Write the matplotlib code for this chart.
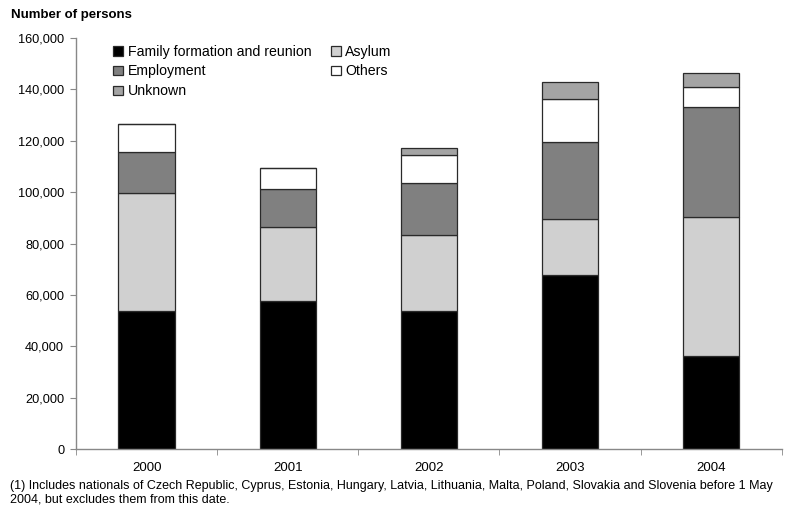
import matplotlib
matplotlib.use("Agg")
import matplotlib.pyplot as plt
import numpy as np
from matplotlib.ticker import FuncFormatter, FixedLocator

plt.rcParams['font.family'] = ['Liberation Sans', 'DejaVu Sans']

years = ["2000", "2001", "2002", "2003", "2004"]
family = [53700, 57600, 53700, 67700, 36200]
asylum = [45900, 28800, 29600, 21800, 54100]
employment = [16000, 14800, 20200, 30000, 42800]
others = [10900, 8100, 10900, 16700, 7800]
unknown = [0, 0, 2700, 6600, 5400]

series = [
    ("Family formation and reunion", family, "#000000"),
    ("Asylum", asylum, "#d0d0d0"),
    ("Employment", employment, "#808080"),
    ("Others", others, "#ffffff"),
    ("Unknown", unknown, "#a4a4a4"),
]

fig = plt.figure(figsize=(8.02, 5.08), dpi=100)
ax = fig.add_axes([0.0948, 0.116, 0.880, 0.809])

x = np.arange(len(years))
bottom = np.zeros(len(years))
handles = {}
for name, vals, col in series:
    vals = np.array(vals, dtype=float)
    h = ax.bar(x, vals, width=0.40, bottom=bottom, color=col,
               edgecolor="#2a2a2a", linewidth=0.9, label=name)
    handles[name] = h
    bottom += vals

ax.set_xlim(-0.5, len(years) - 0.5)
ax.set_ylim(0, 160000)
ax.set_yticks(np.arange(0, 160001, 20000))
ax.yaxis.set_major_formatter(FuncFormatter(lambda v, p: f"{int(v):,}"))
ax.set_xticks(x)
ax.set_xticklabels(years)
ax.xaxis.set_minor_locator(FixedLocator(np.arange(-0.5, len(years), 1.0)))
ax.tick_params(axis="x", which="major", length=0, pad=9, labelsize=9.5)
ax.tick_params(axis="x", which="minor", length=4, color="#888888", direction="out")
ax.tick_params(axis="y", length=4, color="#888888", labelsize=9.2, pad=4.5)

for s in ("top", "right"):
    ax.spines[s].set_visible(False)
for s in ("left", "bottom"):
    ax.spines[s].set_color("#888888")
    ax.spines[s].set_linewidth(1.0)

order = ["Family formation and reunion", "Employment", "Unknown", "Asylum", "Others"]
leg = ax.legend([handles[n] for n in order], order, ncol=2, loc="upper left",
                bbox_to_anchor=(0.041, 1.005), frameon=False, fontsize=10.2,
                handlelength=0.7, handleheight=0.7, handletextpad=0.3,
                columnspacing=1.4, labelspacing=0.42, borderaxespad=0.2)

fig.text(0.014, 0.970, "Number of persons", fontsize=9.5, fontweight="bold",
         ha="left", va="center")
fig.text(0.012, 0.043,
         "(1) Includes nationals of Czech Republic, Cyprus, Estonia, Hungary, Latvia, "
         "Lithuania, Malta, Poland, Slovakia and Slovenia before 1 May",
         fontsize=9, ha="left", va="center")
fig.text(0.012, 0.017, "2004, but excludes them from this date.",
         fontsize=9, ha="left", va="center")

fig.savefig("out.png", dpi=100)
